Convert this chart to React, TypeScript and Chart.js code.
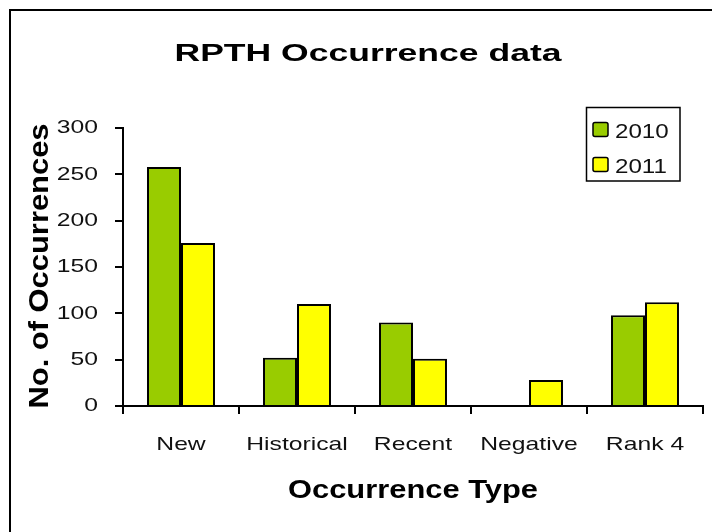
import React, { useEffect, useRef } from 'react';
import { Chart, registerables } from 'chart.js';

Chart.register(...registerables);

const categories = ['New', 'Historical', 'Recent', 'Negative', 'Rank 4'];
const series2010 = [258, 52, 90, 0, 98];
const series2011 = [176, 110, 51, 28, 112];
const seriesLabels = ['2010', '2011'];
const seriesColors = ['#99CC00', '#FFFF00'];
const yTickValues = [0, 50, 100, 150, 200, 250, 300];
const chartTitle = 'RPTH Occurrence data';
const xAxisTitle = 'Occurrence Type';
const yAxisTitle = 'No. of Occurrences';

const FONT = '"Liberation Sans", Arial, sans-serif';

type TextOpts = {
  font: string;
  align?: CanvasTextAlign;
  baseline?: CanvasTextBaseline;
  sx?: number;
  width?: number;
  rotate?: number;
  color?: string;
};

function drawText(ctx: CanvasRenderingContext2D, text: string, x: number, y: number, o: TextOpts) {
  ctx.save();
  ctx.font = o.font;
  ctx.textAlign = o.align || 'center';
  ctx.textBaseline = o.baseline || 'alphabetic';
  ctx.fillStyle = o.color || '#000';
  let sx = o.sx || 1;
  if (o.width) {
    const w = ctx.measureText(text).width;
    sx = o.width / w;
  }
  ctx.translate(x, y);
  if (o.rotate) ctx.rotate(o.rotate);
  ctx.scale(sx, 1);
  ctx.fillText(text, 0, 0);
  ctx.restore();
}

const textPlugin = {
  id: 'customText',
  beforeDraw(chart: any) {
    const ctx: CanvasRenderingContext2D = chart.ctx;
    ctx.save();
    ctx.fillStyle = '#fff';
    ctx.fillRect(0, 0, chart.width, chart.height);
    ctx.strokeStyle = '#000';
    ctx.lineWidth = 2;
    ctx.strokeRect(10, 10, chart.width + 20, chart.height + 20);
    ctx.restore();
  },
  afterDraw(chart: any) {
    const ctx: CanvasRenderingContext2D = chart.ctx;
    const xs = chart.scales.x;
    const ys = chart.scales.y;
    drawText(ctx, chartTitle, 368, 61, { font: `bold 24px ${FONT}`, width: 387 });
    drawText(ctx, xAxisTitle, 413, 498, { font: `bold 26px ${FONT}`, width: 250 });
    drawText(ctx, yAxisTitle, 48, 266, { font: `bold 27px ${FONT}`, width: 285, rotate: -Math.PI / 2 });
    yTickValues.forEach((v) => {
      drawText(ctx, String(v), 98, ys.getPixelForValue(v), {
        font: `19px ${FONT}`,
        align: 'right',
        baseline: 'middle',
        sx: 1.3,
        color: '#111',
      });
    });
    categories.forEach((c, i) => {
      drawText(ctx, c, xs.getPixelForValue(i), 450, {
        font: `19px ${FONT}`,
        sx: 1.3,
        color: '#111',
      });
    });
    ctx.save();
    ctx.strokeStyle = '#000';
    ctx.lineWidth = 1.5;
    ctx.strokeRect(586.5, 107.5, 93.5, 73.5);
    const rows = [129.5, 164.5];
    chart.data.datasets.forEach((ds: any, i: number) => {
      const cy = rows[i];
      ctx.fillStyle = ds.backgroundColor;
      ctx.strokeStyle = '#000';
      ctx.lineWidth = 1.5;
      ctx.beginPath();
      (ctx as any).roundRect(593, cy - 7, 15, 14, 2);
      ctx.fill();
      ctx.stroke();
      drawText(ctx, ds.label, 615, cy + 8, { font: `21px ${FONT}`, align: 'left', sx: 1.15, color: '#111' });
    });
    ctx.restore();
  },
};

export default function App() {
  const canvasRef = useRef<HTMLCanvasElement | null>(null);

  useEffect(() => {
    if (!canvasRef.current) return;
    const chart = new Chart(canvasRef.current, {
      type: 'bar',
      data: {
        labels: categories,
        datasets: [
          {
            label: seriesLabels[0],
            data: series2010,
            backgroundColor: seriesColors[0],
            borderColor: '#000',
            borderWidth: 2,
          },
          {
            label: seriesLabels[1],
            data: series2011,
            backgroundColor: seriesColors[1],
            borderColor: '#000',
            borderWidth: 2,
          },
        ],
      },
      options: {
        animation: false,
        responsive: false,
        maintainAspectRatio: false,
        devicePixelRatio: 1,
        layout: {
          autoPadding: false,
          padding: { left: 115, right: 9, top: 128, bottom: 118 },
        },
        datasets: {
          bar: {
            categoryPercentage: 0.586,
            barPercentage: 1,
          },
        },
        plugins: {
          legend: { display: false },
          title: { display: false },
          tooltip: { enabled: false },
        },
        scales: {
          x: {
            offset: true,
            grid: {
              offset: true,
              drawOnChartArea: false,
              drawTicks: true,
              tickLength: 8,
              color: '#000',
              lineWidth: 2,
            },
            border: { display: true, color: '#000', width: 2 },
            ticks: { display: false },
          },
          y: {
            min: 0,
            max: 300,
            ticks: { display: false, stepSize: 50 },
            grid: {
              drawOnChartArea: false,
              drawTicks: true,
              tickLength: 8,
              color: '#000',
              lineWidth: 2,
            },
            border: { display: true, color: '#000', width: 2 },
          },
        },
      },
      plugins: [textPlugin],
    });
    return () => chart.destroy();
  }, []);

  return (
    <div style={{ position: 'absolute', left: 0, top: 0, width: 712, height: 532, background: '#fff' }}>
      <canvas ref={canvasRef} width={712} height={532} />
    </div>
  );
}
